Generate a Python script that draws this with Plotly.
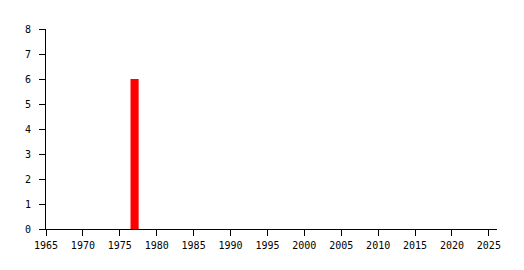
import plotly.graph_objects as go

years = [1977]
counts = [6]
x_ticks = list(range(1965, 2030, 5))
y_ticks = list(range(0, 9))

fig = go.Figure(go.Bar(x=years, y=counts, width=1.1, marker=dict(color="#ff0000", line=dict(width=0))))

font = dict(family="DejaVu Sans Mono", size=10, color="black")
fig.update_layout(
    width=524, height=270,
    margin=dict(l=46, r=27, t=29, b=41, pad=0),
    plot_bgcolor="white", paper_bgcolor="white",
    showlegend=False, font=font,
)
fig.update_xaxes(range=[1965, 2026.1], tickvals=x_ticks, ticktext=[str(v) for v in x_ticks],
                 showgrid=False, zeroline=False, showline=True, linecolor="black", linewidth=1,
                 ticks="outside", ticklen=6, tickcolor="black", tickfont=font, ticklabelstandoff=1)
fig.update_yaxes(range=[0, 8], tickvals=y_ticks, showgrid=False, zeroline=False, showline=True,
                 linecolor="black", linewidth=1, ticks="outside", ticklen=6, tickcolor="black", tickfont=font,
                 ticklabelstandoff=6)

fig.write_html("out.html")
